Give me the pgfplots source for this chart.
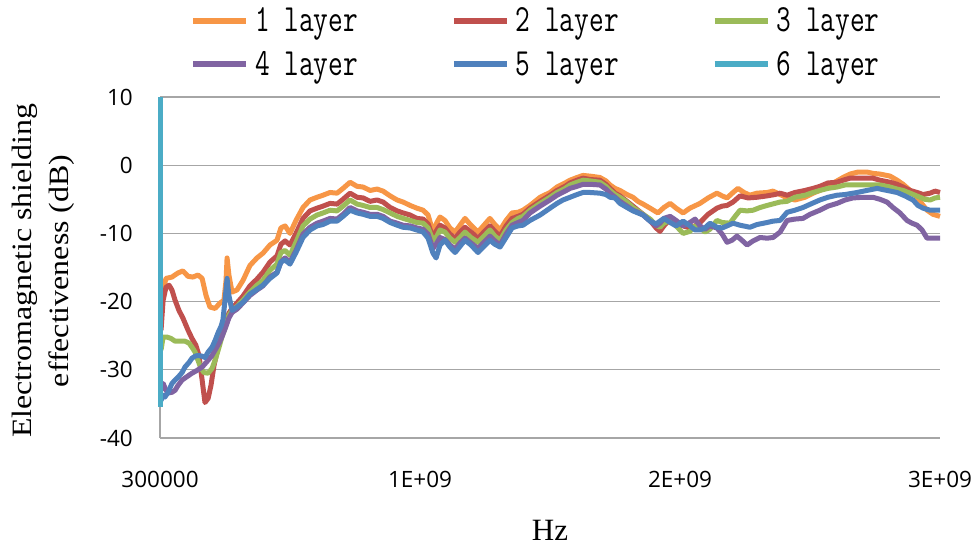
\documentclass[border=0pt]{standalone}
\usepackage{fontspec}
\usepackage{graphicx}
\usepackage{pgfplots}
\pgfplotsset{compat=1.18}
\setmainfont{Liberation Serif}
\newfontfamily\tickfont{Open Sans}
\newfontfamily\labfont[FakeStretch=1.14]{Liberation Serif}
\definecolor{c1}{HTML}{F79646}
\definecolor{c2}{HTML}{C0504D}
\definecolor{c3}{HTML}{9BBB59}
\definecolor{c4}{HTML}{8064A2}
\definecolor{c5}{HTML}{4F81BD}
\definecolor{c6}{HTML}{4BACC6}
\definecolor{gridc}{HTML}{A6A6A6}
\newcommand\lgd[1]{\scalebox{1}[1.35]{\fontsize{28.5}{30}\selectfont\ttfamily #1}}
\begin{document}
\begin{tikzpicture}
\useasboundingbox (0,0) rectangle (976pt,549pt);
\begin{axis}[
  at={(160pt,111pt)}, anchor=south west,
  scale only axis, width=780pt, height=341pt,
  xmin=0, xmax=3, ymin=-40, ymax=10,
  clip=false,
  axis x line*=bottom, axis y line*=left,
  axis line style={gridc, line width=1.3pt, -},
  ymajorgrids, grid style={gridc, line width=1.3pt},
  major tick length=0pt,
  xtick={0,1,2,3}, xticklabels={300000,1E+09,2E+09,3E+09},
  ytick={-40,-30,-20,-10,0,10}, yticklabels={-40,-30,-20,-10,0,10},
  xticklabel style={font=\tickfont\fontsize{22.5}{22.5}\selectfont, inner sep=0pt, anchor=north, yshift=-33pt},
  yticklabel style={font=\tickfont\fontsize{22.5}{22.5}\selectfont, inner sep=0pt, anchor=east, xshift=-27pt},
  xlabel={Hz},
  xlabel style={font=\fontsize{31}{31}\selectfont, at={(axis description cs:0.5,-0.27)}, anchor=center},
  ylabel={Electromagnetic shielding\\effectiveness (dB)},
  ylabel style={font=\labfont\fontsize{28}{37}\selectfont, align=center, at={(axis description cs:-0.15,0.49)}, anchor=center},
  legend columns=3,
  legend image code/.code={\draw[line width=6pt] (0pt,0pt) -- (53pt,0pt);},
  legend style={at={(axis description cs:0.0385,1.262)}, anchor=north west, draw=none, fill=none,
    inner sep=0pt, nodes={inner sep=0pt}, row sep=18pt,
    /tikz/every odd column/.append style={column sep=6pt},
    /tikz/every even column/.append style={column sep=93pt}},
  every axis plot/.append style={line width=5pt, line join=round},
]
\addplot[c1] coordinates {
(0.004,-22.0)(0.012,-18.3)(0.023,-16.6)(0.046,-16.4)(0.069,-15.8)(0.088,-15.5)(0.108,-16.3)(0.127,-16.4)(0.146,-16.1)(0.162,-16.6)(0.177,-19.1)(0.192,-20.8)(0.212,-21.0)(0.231,-20.2)(0.246,-19.8)(0.254,-16.9)(0.258,-13.6)(0.265,-16.1)(0.277,-18.6)(0.296,-18.3)(0.319,-16.9)(0.346,-14.7)(0.373,-13.6)(0.396,-12.9)(0.423,-11.7)(0.450,-11.0)(0.465,-9.2)(0.481,-8.9)(0.500,-10.0)(0.523,-8.1)(0.550,-6.2)(0.577,-5.1)(0.604,-4.7)(0.627,-4.4)(0.654,-4.0)(0.681,-4.1)(0.704,-3.4)(0.731,-2.5)(0.758,-3.1)(0.781,-3.2)(0.808,-3.7)(0.835,-3.5)(0.858,-3.8)(0.885,-4.5)(0.912,-5.1)(0.935,-5.4)(0.962,-5.9)(0.988,-6.3)(1.012,-6.6)(1.031,-7.3)(1.050,-9.8)(1.065,-8.4)(1.077,-7.6)(1.096,-8.1)(1.115,-9.2)(1.135,-9.8)(1.154,-8.8)(1.173,-7.8)(1.196,-8.8)(1.223,-9.8)(1.246,-8.8)(1.269,-7.8)(1.288,-8.7)(1.308,-9.5)(1.331,-8.1)(1.354,-7.0)(1.377,-6.9)(1.396,-6.6)(1.423,-5.9)(1.462,-4.7)(1.500,-4.0)(1.527,-3.2)(1.558,-2.6)(1.577,-2.2)(1.604,-1.8)(1.627,-1.5)(1.654,-1.6)(1.692,-1.8)(1.715,-2.3)(1.731,-2.9)(1.750,-3.4)(1.769,-3.7)(1.796,-4.3)(1.819,-4.7)(1.838,-5.3)(1.858,-5.7)(1.885,-6.3)(1.915,-7.0)(1.938,-6.2)(1.962,-5.6)(1.985,-6.3)(2.012,-7.0)(2.038,-6.3)(2.077,-5.6)(2.108,-4.8)(2.142,-4.1)(2.162,-4.5)(2.181,-4.8)(2.204,-4.0)(2.223,-3.4)(2.246,-4.0)(2.269,-4.4)(2.296,-4.1)(2.335,-4.0)(2.358,-3.8)(2.385,-4.3)(2.412,-4.8)(2.442,-5.1)(2.481,-4.7)(2.512,-4.1)(2.538,-3.7)(2.569,-3.1)(2.604,-2.3)(2.627,-1.8)(2.654,-1.3)(2.685,-1.0)(2.719,-1.0)(2.742,-1.2)(2.769,-1.3)(2.808,-1.6)(2.835,-2.2)(2.858,-2.8)(2.885,-3.7)(2.912,-4.7)(2.931,-5.7)(2.950,-6.6)(2.973,-7.2)(3.000,-7.5)
};
\addplot[c2] coordinates {
(0.004,-24.2)(0.012,-19.8)(0.023,-17.9)(0.035,-17.6)(0.046,-18.3)(0.058,-19.8)(0.073,-21.3)(0.088,-22.4)(0.108,-24.2)(0.123,-25.4)(0.138,-26.4)(0.150,-27.9)(0.162,-31.5)(0.173,-34.8)(0.185,-34.2)(0.196,-32.3)(0.208,-29.3)(0.223,-26.8)(0.238,-24.9)(0.254,-23.0)(0.265,-21.7)(0.277,-21.0)(0.296,-20.2)(0.319,-19.2)(0.346,-17.7)(0.373,-16.7)(0.396,-15.7)(0.423,-14.2)(0.450,-13.3)(0.465,-11.6)(0.481,-11.1)(0.500,-11.7)(0.523,-10.0)(0.550,-7.8)(0.577,-6.7)(0.604,-6.3)(0.627,-6.0)(0.654,-5.6)(0.681,-5.7)(0.704,-5.0)(0.731,-4.1)(0.758,-4.7)(0.781,-4.8)(0.808,-5.3)(0.835,-5.1)(0.858,-5.4)(0.885,-6.2)(0.912,-6.7)(0.935,-7.0)(0.962,-7.3)(0.988,-7.8)(1.012,-7.9)(1.031,-8.6)(1.050,-10.6)(1.065,-9.5)(1.077,-8.8)(1.096,-9.2)(1.115,-10.1)(1.135,-10.7)(1.154,-9.8)(1.173,-9.1)(1.196,-9.8)(1.223,-10.7)(1.246,-9.8)(1.269,-8.9)(1.288,-9.7)(1.308,-10.4)(1.331,-8.9)(1.354,-7.8)(1.377,-7.5)(1.396,-7.2)(1.423,-6.3)(1.462,-5.3)(1.500,-4.4)(1.527,-3.7)(1.558,-3.1)(1.577,-2.6)(1.604,-2.2)(1.627,-1.9)(1.654,-2.1)(1.692,-2.2)(1.715,-2.8)(1.731,-3.4)(1.750,-4.1)(1.769,-4.5)(1.796,-5.3)(1.819,-6.0)(1.838,-6.6)(1.858,-7.2)(1.885,-8.1)(1.908,-9.2)(1.923,-9.7)(1.938,-8.9)(1.962,-7.9)(1.985,-8.5)(2.012,-8.9)(2.038,-9.2)(2.058,-8.9)(2.077,-8.4)(2.108,-7.2)(2.142,-6.3)(2.162,-6.0)(2.181,-5.9)(2.204,-5.4)(2.231,-4.5)(2.262,-4.8)(2.296,-4.7)(2.335,-4.5)(2.365,-4.3)(2.385,-4.1)(2.412,-4.4)(2.442,-4.0)(2.481,-3.7)(2.512,-3.4)(2.538,-3.1)(2.569,-2.6)(2.604,-2.5)(2.627,-2.2)(2.654,-1.9)(2.685,-1.9)(2.719,-1.9)(2.742,-1.9)(2.769,-2.2)(2.808,-2.5)(2.835,-2.8)(2.858,-3.2)(2.885,-3.7)(2.912,-4.0)(2.935,-4.3)(2.962,-4.1)(2.981,-3.8)(3.000,-4.0)
};
\addplot[c3] coordinates {
(0.004,-27.1)(0.012,-25.2)(0.027,-25.2)(0.042,-25.4)(0.058,-25.8)(0.077,-25.8)(0.096,-25.8)(0.112,-26.1)(0.123,-26.7)(0.135,-27.4)(0.146,-28.6)(0.158,-29.8)(0.169,-30.4)(0.185,-30.5)(0.200,-29.8)(0.212,-28.6)(0.227,-26.7)(0.238,-25.2)(0.254,-23.5)(0.265,-22.0)(0.277,-21.3)(0.296,-20.7)(0.319,-19.8)(0.346,-18.6)(0.373,-17.6)(0.396,-16.9)(0.423,-15.4)(0.450,-14.5)(0.465,-12.8)(0.481,-12.5)(0.500,-13.2)(0.523,-11.3)(0.550,-8.9)(0.577,-7.9)(0.604,-7.3)(0.627,-7.0)(0.654,-6.6)(0.681,-6.7)(0.704,-6.0)(0.731,-5.1)(0.758,-5.7)(0.781,-5.9)(0.808,-6.2)(0.835,-6.2)(0.858,-6.5)(0.885,-7.0)(0.912,-7.5)(0.935,-7.8)(0.962,-8.1)(0.988,-8.4)(1.012,-8.5)(1.031,-9.2)(1.050,-11.0)(1.065,-10.4)(1.077,-9.5)(1.096,-9.8)(1.115,-10.7)(1.135,-11.3)(1.154,-10.6)(1.173,-9.8)(1.196,-10.6)(1.223,-11.3)(1.246,-10.4)(1.269,-9.5)(1.288,-10.4)(1.308,-11.0)(1.331,-9.5)(1.354,-8.4)(1.377,-7.8)(1.396,-7.5)(1.423,-6.6)(1.462,-5.6)(1.500,-4.7)(1.527,-4.0)(1.558,-3.4)(1.577,-2.9)(1.604,-2.5)(1.627,-2.2)(1.654,-2.3)(1.692,-2.5)(1.715,-3.1)(1.731,-3.7)(1.750,-4.3)(1.769,-4.7)(1.796,-5.4)(1.819,-6.2)(1.838,-6.7)(1.858,-7.2)(1.885,-7.9)(1.908,-8.8)(1.923,-9.1)(1.938,-8.5)(1.962,-8.1)(1.985,-8.9)(2.012,-10.0)(2.038,-9.7)(2.058,-8.9)(2.077,-9.2)(2.096,-9.8)(2.115,-9.4)(2.142,-8.1)(2.162,-8.4)(2.192,-8.5)(2.212,-7.5)(2.231,-6.6)(2.258,-6.7)(2.281,-6.6)(2.308,-6.2)(2.335,-5.9)(2.365,-5.6)(2.385,-5.4)(2.412,-5.3)(2.442,-4.7)(2.481,-4.4)(2.512,-4.0)(2.538,-3.7)(2.569,-3.4)(2.604,-3.2)(2.635,-2.9)(2.681,-2.9)(2.719,-2.9)(2.769,-2.9)(2.808,-3.2)(2.835,-3.5)(2.858,-3.7)(2.885,-4.1)(2.923,-4.7)(2.942,-5.0)(2.962,-5.1)(2.981,-4.8)(3.000,-4.7)
};
\addplot[c4] coordinates {
(0.004,-33.0)(0.012,-32.0)(0.023,-33.0)(0.031,-33.4)(0.046,-33.3)(0.058,-33.0)(0.069,-32.3)(0.085,-31.5)(0.100,-31.1)(0.123,-30.5)(0.142,-30.1)(0.162,-29.6)(0.185,-28.6)(0.200,-27.9)(0.212,-27.1)(0.227,-26.1)(0.238,-25.2)(0.254,-23.6)(0.265,-22.4)(0.277,-21.6)(0.296,-21.1)(0.319,-20.2)(0.346,-19.1)(0.373,-18.3)(0.396,-17.7)(0.423,-16.4)(0.450,-15.7)(0.465,-14.2)(0.481,-13.6)(0.500,-14.2)(0.523,-12.5)(0.550,-10.1)(0.577,-9.1)(0.604,-8.5)(0.627,-8.2)(0.654,-7.8)(0.681,-7.9)(0.704,-7.2)(0.731,-6.2)(0.758,-6.7)(0.781,-6.9)(0.808,-7.2)(0.835,-7.2)(0.858,-7.5)(0.885,-8.2)(0.912,-8.5)(0.935,-8.8)(0.962,-8.9)(0.988,-9.2)(1.012,-9.4)(1.031,-10.1)(1.050,-12.2)(1.065,-11.4)(1.077,-10.6)(1.096,-10.9)(1.115,-11.7)(1.135,-12.3)(1.154,-11.4)(1.173,-10.7)(1.196,-11.4)(1.223,-12.2)(1.246,-11.3)(1.269,-10.4)(1.288,-11.1)(1.308,-11.7)(1.331,-10.1)(1.354,-8.8)(1.377,-8.4)(1.396,-8.1)(1.423,-7.0)(1.462,-6.0)(1.500,-5.1)(1.527,-4.4)(1.558,-3.8)(1.577,-3.4)(1.604,-3.1)(1.627,-2.8)(1.654,-2.8)(1.692,-2.9)(1.715,-3.5)(1.731,-4.1)(1.750,-4.7)(1.769,-5.3)(1.796,-6.0)(1.819,-6.6)(1.838,-6.9)(1.858,-7.3)(1.885,-8.2)(1.908,-8.9)(1.923,-8.5)(1.938,-7.8)(1.962,-7.5)(1.985,-8.1)(2.012,-8.9)(2.038,-8.4)(2.058,-7.9)(2.077,-8.9)(2.096,-9.4)(2.115,-8.9)(2.142,-9.2)(2.162,-10.1)(2.181,-11.3)(2.200,-11.0)(2.219,-10.4)(2.238,-11.0)(2.258,-11.7)(2.281,-11.1)(2.308,-10.6)(2.335,-10.7)(2.358,-10.6)(2.385,-9.8)(2.412,-8.1)(2.442,-7.9)(2.473,-7.8)(2.500,-7.2)(2.538,-6.6)(2.569,-6.0)(2.604,-5.6)(2.635,-5.1)(2.665,-4.8)(2.704,-4.7)(2.742,-4.7)(2.769,-5.0)(2.796,-5.4)(2.819,-6.2)(2.846,-7.0)(2.873,-8.1)(2.892,-8.5)(2.912,-8.8)(2.931,-9.5)(2.950,-10.7)(2.973,-10.7)(3.000,-10.7)
};
\addplot[c5] coordinates {
(0.004,-34.5)(0.012,-33.7)(0.019,-34.0)(0.031,-33.3)(0.046,-32.0)(0.058,-31.5)(0.069,-31.1)(0.085,-30.4)(0.096,-29.6)(0.112,-28.9)(0.123,-28.3)(0.135,-28.0)(0.146,-27.9)(0.162,-28.0)(0.173,-28.2)(0.185,-27.4)(0.200,-26.7)(0.212,-25.7)(0.223,-24.6)(0.235,-23.6)(0.242,-22.7)(0.250,-19.8)(0.258,-16.6)(0.265,-19.1)(0.277,-21.3)(0.296,-20.8)(0.319,-20.1)(0.346,-18.9)(0.373,-18.2)(0.396,-17.6)(0.423,-16.6)(0.450,-15.8)(0.465,-14.2)(0.481,-13.9)(0.500,-14.5)(0.523,-12.8)(0.550,-10.6)(0.577,-9.5)(0.604,-8.9)(0.627,-8.7)(0.654,-8.2)(0.681,-8.2)(0.704,-7.5)(0.731,-6.6)(0.758,-7.0)(0.781,-7.2)(0.808,-7.5)(0.835,-7.5)(0.858,-7.8)(0.885,-8.4)(0.912,-8.8)(0.935,-9.1)(0.962,-9.2)(0.988,-9.5)(1.012,-9.8)(1.031,-10.7)(1.050,-12.9)(1.062,-13.6)(1.077,-11.7)(1.096,-11.0)(1.115,-12.0)(1.135,-12.8)(1.154,-11.9)(1.173,-11.0)(1.196,-11.7)(1.223,-12.8)(1.246,-11.9)(1.269,-11.0)(1.288,-11.6)(1.308,-12.0)(1.331,-10.6)(1.354,-9.2)(1.377,-8.9)(1.396,-8.8)(1.423,-8.1)(1.462,-7.3)(1.500,-6.3)(1.527,-5.6)(1.550,-5.1)(1.577,-4.7)(1.604,-4.3)(1.627,-4.0)(1.654,-4.0)(1.692,-4.1)(1.715,-4.3)(1.731,-4.7)(1.750,-4.8)(1.769,-5.6)(1.796,-6.2)(1.819,-6.7)(1.838,-7.0)(1.858,-7.3)(1.885,-8.2)(1.908,-8.6)(1.923,-8.2)(1.938,-7.8)(1.962,-8.4)(1.985,-8.9)(2.012,-8.2)(2.038,-8.9)(2.058,-9.5)(2.077,-9.5)(2.096,-9.2)(2.115,-8.5)(2.142,-9.1)(2.162,-9.2)(2.181,-8.9)(2.204,-8.5)(2.231,-8.8)(2.269,-9.1)(2.296,-8.7)(2.335,-8.4)(2.358,-8.2)(2.385,-8.1)(2.412,-6.9)(2.442,-6.6)(2.473,-6.2)(2.508,-5.6)(2.538,-5.1)(2.569,-4.7)(2.604,-4.4)(2.635,-4.3)(2.681,-4.0)(2.719,-3.7)(2.758,-3.4)(2.796,-3.7)(2.835,-4.0)(2.865,-4.5)(2.896,-5.1)(2.915,-5.9)(2.935,-6.3)(2.962,-6.6)(3.000,-6.6)
};
\addplot[c6] coordinates {(0.0003,10)(0.0003,-35.5)};
\legend{\lgd{1 layer},\lgd{2 layer},\lgd{3 layer},\lgd{4 layer},\lgd{5 layer},\lgd{6 layer}}
\end{axis}
\end{tikzpicture}
\end{document}
